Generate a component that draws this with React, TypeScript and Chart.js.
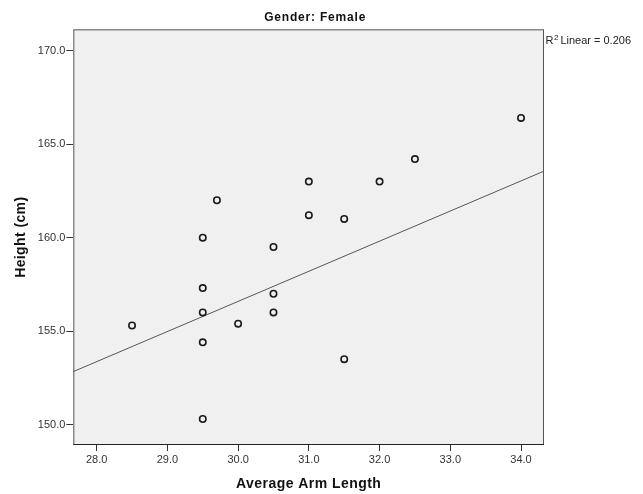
import { useEffect, useRef } from "react";
import { Chart, registerables } from "chart.js";

Chart.register(...registerables);

// ---- data ----
const armLength = [28.5, 29.5, 29.5, 29.5, 29.5, 29.5, 29.7, 30.0, 30.5, 30.5, 30.5, 31.0, 31.0, 31.5, 31.5, 32.0, 32.5, 34.0];
const heightCm = [155.3, 157.3, 156.0, 154.4, 150.3, 160.0, 162.0, 155.4, 157.0, 156.0, 159.5, 163.0, 161.2, 161.0, 153.5, 163.0, 164.2, 166.4];
const xTicks = [28, 29, 30, 31, 32, 33, 34];
const yTicks = [150, 155, 160, 165, 170];
const xRange = [27.67, 34.325];
const yRange = [148.91, 171.14];
const fitIntercept = 108.26;
const fitSlope = 1.611;
const rSquared = 0.206;
const chartTitle = "Gender: Female";
const xTitle = "Average Arm Length";
const yTitle = "Height (cm)";

const FONT = "'Liberation Sans', Arial, sans-serif";

export default function App() {
  const ref = useRef<HTMLCanvasElement | null>(null);

  useEffect(() => {
    if (!ref.current) return;
    const points = armLength.map((x, i) => ({ x, y: heightCm[i] }));
    const fitLine = xRange.map((x) => ({ x, y: fitIntercept + fitSlope * x }));

    const decor = {
      id: "decor",
      beforeDraw(chart: any) {
        const { ctx, chartArea: a } = chart;
        ctx.save();
        ctx.fillStyle = "#f0f0f0";
        ctx.fillRect(a.left, a.top, a.right - a.left, a.bottom - a.top);
        ctx.restore();
      },
      afterDraw(chart: any) {
        const { ctx, chartArea: a } = chart;
        ctx.save();
        ctx.strokeStyle = "#555";
        ctx.lineWidth = 1;
        ctx.strokeRect(a.left + 0.5, a.top + 0.5, a.right - a.left - 1, a.bottom - a.top - 1);
        ctx.strokeStyle = "#222";
        ctx.beginPath();
        ctx.moveTo(a.left, a.bottom - 0.5);
        ctx.lineTo(a.right, a.bottom - 0.5);
        ctx.stroke();

        const cx = (a.left + a.right) / 2;
        ctx.fillStyle = "#111";
        ctx.textAlign = "center";
        ctx.textBaseline = "middle";
        ctx.font = `bold 12px ${FONT}`;
        (ctx as any).letterSpacing = "0.8px";
        ctx.fillText(chartTitle, cx + 6.5, 18);
        ctx.font = `bold 14px ${FONT}`;
        (ctx as any).letterSpacing = "0.45px";
        ctx.fillText(xTitle, cx, 484);
        ctx.save();
        ctx.translate(21.5, (a.top + a.bottom) / 2);
        ctx.rotate(-Math.PI / 2);
        (ctx as any).letterSpacing = "0.4px";
        ctx.fillText(yTitle, 0, 0);
        ctx.restore();
        (ctx as any).letterSpacing = "0px";

        // R² label
        ctx.fillStyle = "#222";
        ctx.textAlign = "left";
        ctx.textBaseline = "alphabetic";
        let x = a.right + 1.5;
        ctx.font = `11px ${FONT}`;
        ctx.fillText("R", x, 44);
        x += ctx.measureText("R").width + 0.5;
        ctx.font = `8px ${FONT}`;
        ctx.fillText("2", x, 40);
        x += ctx.measureText("2").width + 2;
        ctx.font = `11px ${FONT}`;
        ctx.fillText(`Linear = ${rSquared.toFixed(3)}`, x, 44);
        ctx.restore();
      },
    };

    const chart = new Chart(ref.current, {
      type: "scatter",
      data: {
        datasets: [
          {
            type: "scatter",
            data: points,
            pointRadius: 3.2,
            pointBorderWidth: 1.6,
            pointBorderColor: "#1a1a1a",
            pointBackgroundColor: "rgba(0,0,0,0)",
            pointHoverRadius: 3.2,
          },
          {
            type: "line",
            data: fitLine,
            borderColor: "#555",
            borderWidth: 1,
            pointRadius: 0,
            fill: false,
          } as any,
        ],
      },
      plugins: [decor],
      options: {
        animation: false,
        responsive: true,
        maintainAspectRatio: false,
        events: [],
        layout: { padding: { top: 29.33, right: 99, left: 0, bottom: 0 } },
        plugins: { legend: { display: false }, tooltip: { enabled: false }, title: { display: false } },
        scales: {
          x: {
            type: "linear",
            min: xRange[0],
            max: xRange[1],
            afterBuildTicks: (s: any) => {
              s.ticks = xTicks.map((v) => ({ value: v }));
            },
            afterFit: (s: any) => {
              s.height = 49;
            },
            ticks: {
              callback: (v: any) => Number(v).toFixed(1),
              color: "#333",
              font: { family: FONT, size: 11 },
              padding: 2,
              maxRotation: 0,
              autoSkip: false,
            },
            grid: { drawOnChartArea: false, drawTicks: true, tickLength: 6, color: "#333" },
            border: { display: false },
          },
          y: {
            type: "linear",
            min: yRange[0],
            max: yRange[1],
            afterBuildTicks: (s: any) => {
              s.ticks = yTicks.map((v) => ({ value: v }));
            },
            afterFit: (s: any) => {
              s.width = 73.33;
            },
            ticks: {
              callback: (v: any) => Number(v).toFixed(1),
              color: "#333",
              font: { family: FONT, size: 11 },
              padding: 1,
              autoSkip: false,
            },
            grid: { drawOnChartArea: false, drawTicks: true, tickLength: 7, color: "#333" },
            border: { display: false },
          },
        },
      } as any,
    });
    return () => chart.destroy();
  }, []);

  return (
    <div style={{ position: "absolute", left: 0, top: 0, width: 643, height: 494, background: "#fff" }}>
      <canvas ref={ref} />
    </div>
  );
}
